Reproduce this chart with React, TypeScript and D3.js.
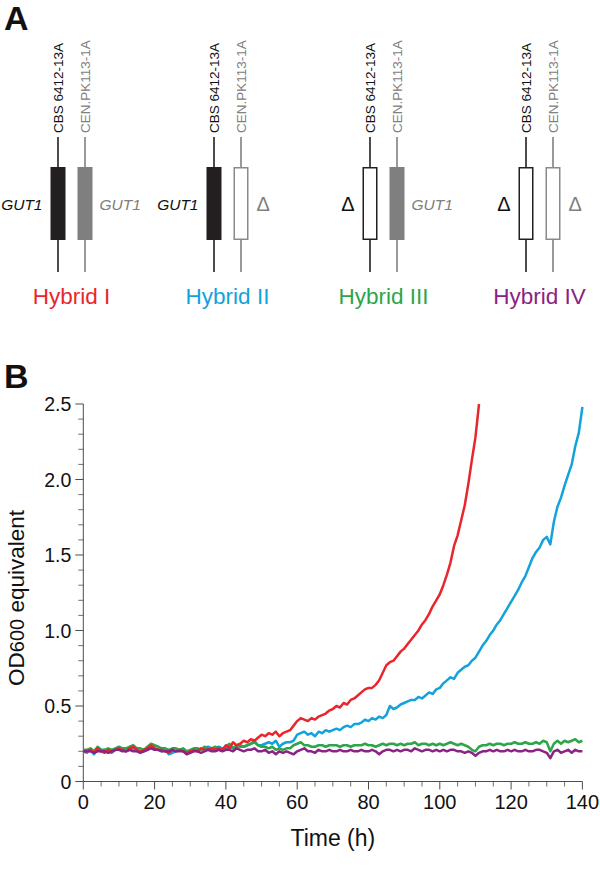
import React from 'react';
import * as d3 from 'd3';

// ---------- Panel A data ----------
const hybridNames = ['Hybrid I', 'Hybrid II', 'Hybrid III', 'Hybrid IV'];
const hybridColors = ['#e8262b', '#13a2dc', '#2ea548', '#8a2383'];
const strainLeft = 'CBS 6412-13A';
const strainRight = 'CEN.PK113-1A';
// allele of each parental chromosome: true = GUT1 present, false = deleted
const leftHasGut1 = [true, true, false, false];
const rightHasGut1 = [true, false, true, false];

// ---------- Panel B data ----------
const xTickValues = [0, 20, 40, 60, 80, 100, 120, 140];
const yTickValues = [0, 0.5, 1.0, 1.5, 2.0, 2.5];
const yTickLabels = ['0', '0.5', '1.0', '1.5', '2.0', '2.5'];

const hybridI = [
  0.20, 0.20, 0.21, 0.19, 0.22, 0.20, 0.19, 0.21, 0.20, 0.21,
  0.22, 0.21, 0.20, 0.22, 0.23, 0.21, 0.20, 0.21, 0.22, 0.24,
  0.22, 0.21, 0.21, 0.20, 0.19, 0.21, 0.20, 0.21, 0.20, 0.19,
  0.20, 0.21, 0.20, 0.22, 0.21, 0.21, 0.22, 0.21, 0.22, 0.21,
  0.24, 0.22, 0.26, 0.24, 0.25, 0.27, 0.26, 0.28, 0.27, 0.29,
  0.31, 0.30, 0.32, 0.31, 0.33, 0.30, 0.32, 0.33, 0.34, 0.37,
  0.40, 0.42, 0.41, 0.40, 0.42, 0.41, 0.43, 0.44, 0.45, 0.47,
  0.48, 0.50, 0.49, 0.52, 0.51, 0.54, 0.55, 0.57, 0.59, 0.61,
  0.62, 0.62, 0.64, 0.67, 0.72, 0.77, 0.79, 0.80, 0.83, 0.86,
  0.88, 0.91, 0.94, 0.97, 1.00, 1.04, 1.07, 1.11, 1.16, 1.20,
  1.24, 1.30, 1.37, 1.45, 1.56, 1.63, 1.73, 1.83, 1.97, 2.13,
  2.28, 2.50,
];

const hybridII = [
  0.20, 0.19, 0.21, 0.18, 0.21, 0.20, 0.21, 0.20, 0.19, 0.21,
  0.21, 0.22, 0.20, 0.21, 0.22, 0.21, 0.20, 0.20, 0.21, 0.23,
  0.22, 0.21, 0.20, 0.21, 0.18, 0.19, 0.20, 0.21, 0.20, 0.20,
  0.20, 0.21, 0.22, 0.21, 0.22, 0.23, 0.22, 0.22, 0.23, 0.22,
  0.22, 0.23, 0.22, 0.23, 0.24, 0.23, 0.24, 0.25, 0.27, 0.24,
  0.24, 0.25, 0.26, 0.25, 0.27, 0.23, 0.25, 0.26, 0.26, 0.27,
  0.31, 0.32, 0.33, 0.31, 0.32, 0.30, 0.33, 0.32, 0.34, 0.33,
  0.34, 0.35, 0.34, 0.36, 0.37, 0.36, 0.38, 0.38, 0.39, 0.41,
  0.40, 0.42, 0.41, 0.43, 0.42, 0.44, 0.50, 0.48, 0.49, 0.51,
  0.52, 0.53, 0.54, 0.54, 0.56, 0.55, 0.57, 0.59, 0.58, 0.61,
  0.62, 0.65, 0.67, 0.69, 0.68, 0.72, 0.74, 0.76, 0.77, 0.80,
  0.82, 0.86, 0.90, 0.93, 0.97, 1.00, 1.04, 1.07, 1.11, 1.15,
  1.19, 1.23, 1.27, 1.32, 1.36, 1.42, 1.48, 1.52, 1.55, 1.60,
  1.62, 1.57, 1.72, 1.82, 1.88, 1.96, 2.03, 2.10, 2.22, 2.31,
  2.48,
];

const hybridIII = [
  0.21, 0.21, 0.22, 0.20, 0.23, 0.21, 0.21, 0.22, 0.21, 0.22,
  0.23, 0.22, 0.22, 0.23, 0.24, 0.22, 0.22, 0.21, 0.23, 0.25,
  0.24, 0.23, 0.22, 0.22, 0.21, 0.22, 0.22, 0.21, 0.22, 0.20,
  0.21, 0.22, 0.22, 0.21, 0.23, 0.22, 0.22, 0.23, 0.22, 0.21,
  0.23, 0.25, 0.22, 0.24, 0.23, 0.23, 0.24, 0.25, 0.26, 0.24,
  0.23, 0.23, 0.22, 0.23, 0.21, 0.22, 0.21, 0.22, 0.22, 0.24,
  0.25, 0.26, 0.24, 0.24, 0.23, 0.23, 0.24, 0.24, 0.23, 0.24,
  0.24, 0.24, 0.23, 0.24, 0.24, 0.23, 0.24, 0.24, 0.24, 0.25,
  0.24, 0.24, 0.23, 0.24, 0.25, 0.24, 0.25, 0.25, 0.24, 0.25,
  0.24, 0.25, 0.25, 0.26, 0.24, 0.25, 0.25, 0.24, 0.25, 0.24,
  0.25, 0.24, 0.25, 0.26, 0.25, 0.24, 0.25, 0.24, 0.23, 0.21,
  0.20, 0.23, 0.24, 0.24, 0.25, 0.24, 0.25, 0.25, 0.24, 0.25,
  0.25, 0.26, 0.25, 0.25, 0.26, 0.25, 0.25, 0.26, 0.25, 0.27,
  0.26, 0.20, 0.25, 0.27, 0.25, 0.27, 0.26, 0.27, 0.28, 0.26,
  0.27,
];

const hybridIV = [
  0.20, 0.20, 0.20, 0.19, 0.20, 0.20, 0.20, 0.19, 0.20, 0.21,
  0.21, 0.20, 0.20, 0.21, 0.20, 0.20, 0.19, 0.20, 0.21, 0.22,
  0.21, 0.21, 0.20, 0.20, 0.20, 0.21, 0.20, 0.20, 0.20, 0.18,
  0.19, 0.20, 0.20, 0.19, 0.20, 0.21, 0.20, 0.20, 0.21, 0.20,
  0.21, 0.21, 0.20, 0.22, 0.21, 0.20, 0.21, 0.21, 0.22, 0.20,
  0.20, 0.21, 0.19, 0.20, 0.18, 0.20, 0.19, 0.20, 0.19, 0.18,
  0.20, 0.21, 0.22, 0.20, 0.20, 0.19, 0.21, 0.20, 0.20, 0.21,
  0.20, 0.20, 0.21, 0.20, 0.20, 0.21, 0.20, 0.20, 0.21, 0.20,
  0.20, 0.21, 0.20, 0.18, 0.20, 0.21, 0.21, 0.20, 0.21, 0.20,
  0.21, 0.21, 0.20, 0.22, 0.21, 0.20, 0.21, 0.21, 0.20, 0.21,
  0.20, 0.21, 0.20, 0.21, 0.21, 0.20, 0.20, 0.19, 0.20, 0.19,
  0.17, 0.19, 0.20, 0.20, 0.21, 0.20, 0.21, 0.20, 0.20, 0.21,
  0.20, 0.21, 0.20, 0.20, 0.21, 0.20, 0.20, 0.21, 0.21, 0.20,
  0.19, 0.155, 0.20, 0.21, 0.19, 0.20, 0.21, 0.19, 0.21, 0.20,
  0.20,
];

// draw order: blue, green, red, purple on top
const seriesOrder = [1, 2, 0, 3];
const seriesValues = [hybridI, hybridII, hybridIII, hybridIV];

const FONT = "'Liberation Sans', Arial, Helvetica, sans-serif";

export default function App() {
  // ---- panel A geometry ----
  const pairX = d3.scaleLinear().domain([0, 3]).range([58, 526]);
  const pairGap = 27;
  const barW = 15;
  const barTop = 167;
  const barBottom = 240;
  const lineTop = 137;
  const lineBottom = 272;
  const midY = (barTop + barBottom) / 2;

  // ---- panel B scales ----
  const x = d3.scaleLinear().domain([0, 140]).range([83.3, 582.4]);
  const y = d3.scaleLinear().domain([0, 2.5]).range([781.5, 404]);
  const xMinor = d3.range(0, 141, 5).filter((v) => v % 20 !== 0);
  const yMinor = d3.range(0, 26, 1).map((v) => v / 10).filter((v) => Math.round(v * 10) % 5 !== 0);

  const line = d3
    .line<number>()
    .x((_, i) => x(i))
    .y((d) => y(d))
    .curve(d3.curveLinear);

  const axisColor = '#4d4d4d';
  const grey = '#808080';

  return (
    <svg
      width={600}
      height={871}
      style={{ position: 'absolute', left: 0, top: 0, background: '#fff' }}
      fontFamily={FONT}
    >
      <rect width={600} height={871} fill="#fff" />
      {/* Panel letters */}
      <text x={4} y={30} fontSize={34} fontWeight="bold" fill="#111">A</text>
      <text x={4} y={388} fontSize={34} fontWeight="bold" fill="#111">B</text>

      {/* Panel A */}
      {hybridNames.map((name, i) => {
        const lx = pairX(i);
        const rx = lx + pairGap;
        const cx = (lx + rx) / 2;
        return (
          <g key={name}>
            {/* strain labels */}
            <text
              transform={`translate(${lx + 4.8},${133}) rotate(-90)`}
              fontSize={13.5}
              fill="#111"
            >
              {strainLeft}
            </text>
            <text
              transform={`translate(${rx + 4.8},${133}) rotate(-90)`}
              fontSize={13.5}
              fill={grey}
            >
              {strainRight}
            </text>
            {/* chromosome lines */}
            <line x1={lx} x2={lx} y1={lineTop} y2={lineBottom} stroke="#231f20" strokeWidth={1.6} />
            <line x1={rx} x2={rx} y1={lineTop} y2={lineBottom} stroke={grey} strokeWidth={1.6} />
            {/* bars */}
            <rect
              x={lx - barW / 2 + (leftHasGut1[i] ? 0 : 0.75)}
              y={barTop + (leftHasGut1[i] ? 0 : 0.75)}
              width={barW - (leftHasGut1[i] ? 0 : 1.5)}
              height={barBottom - barTop - (leftHasGut1[i] ? 0 : 1.5)}
              fill={leftHasGut1[i] ? '#231f20' : '#fff'}
              stroke={leftHasGut1[i] ? 'none' : '#231f20'}
              strokeWidth={1.5}
            />
            <rect
              x={rx - barW / 2 + (rightHasGut1[i] ? 0 : 0.75)}
              y={barTop + (rightHasGut1[i] ? 0 : 0.75)}
              width={barW - (rightHasGut1[i] ? 0 : 1.5)}
              height={barBottom - barTop - (rightHasGut1[i] ? 0 : 1.5)}
              fill={rightHasGut1[i] ? '#7f7f80' : '#fff'}
              stroke={rightHasGut1[i] ? 'none' : '#8a8a8a'}
              strokeWidth={1.5}
            />
            {/* allele labels */}
            {leftHasGut1[i] ? (
              <text x={lx - barW / 2 - 8} y={midY + 6} fontSize={15.5} fontStyle="italic" textAnchor="end" fill="#111">
                GUT1
              </text>
            ) : (
              <text x={lx - barW / 2 - 8} y={midY + 7} fontSize={20} textAnchor="end" fill="#111">
                Δ
              </text>
            )}
            {rightHasGut1[i] ? (
              <text x={rx + barW / 2 + 7} y={midY + 6} fontSize={15.5} fontStyle="italic" fill={grey}>
                GUT1
              </text>
            ) : (
              <text x={rx + barW / 2 + 8} y={midY + 7} fontSize={20} fill={grey}>
                Δ
              </text>
            )}
            {/* hybrid name */}
            <text x={cx} y={304} fontSize={22.5} textAnchor="middle" fill={hybridColors[i]}>
              {name}
            </text>
          </g>
        );
      })}

      {/* Panel B axes */}
      <line x1={x(0)} x2={x(0)} y1={y(2.5)} y2={y(0)} stroke={axisColor} strokeWidth={1} />
      <line x1={x(0)} x2={x(140)} y1={y(0)} y2={y(0)} stroke={axisColor} strokeWidth={1} />
      {yTickValues.map((v, i) => (
        <g key={'yt' + v}>
          <line x1={x(0) - 8} x2={x(0)} y1={y(v)} y2={y(v)} stroke={axisColor} strokeWidth={1} />
          <text x={x(0) - 12} y={y(v) + 7} fontSize={19.5} textAnchor="end" fill="#111">
            {yTickLabels[i]}
          </text>
        </g>
      ))}
      {yMinor.map((v) => (
        <line key={'ym' + v} x1={x(0) - 5} x2={x(0)} y1={y(v)} y2={y(v)} stroke={axisColor} strokeWidth={0.8} />
      ))}
      {xTickValues.map((v) => (
        <g key={'xt' + v}>
          <line x1={x(v)} x2={x(v)} y1={y(0)} y2={y(0) + 8} stroke={axisColor} strokeWidth={1} />
          <text x={x(v)} y={y(0) + 27} fontSize={20} textAnchor="middle" fill="#111">
            {v}
          </text>
        </g>
      ))}
      {xMinor.map((v) => (
        <line key={'xm' + v} x1={x(v)} x2={x(v)} y1={y(0)} y2={y(0) + 5} stroke={axisColor} strokeWidth={0.8} />
      ))}
      <text x={(x(0) + x(140)) / 2} y={846} fontSize={23} textAnchor="middle" fill="#111">
        Time (h)
      </text>
      <text
        transform={`translate(${24},${598}) rotate(-90)`}
        fontSize={22.5}
        textAnchor="middle"
        fill="#111"
      >
        OD<tspan fontSize={20}>600</tspan> equivalent
      </text>

      {/* Curves */}
      {seriesOrder.map((si) => (
        <path
          key={'s' + si}
          d={line(seriesValues[si]) || ''}
          fill="none"
          stroke={hybridColors[si]}
          strokeWidth={2.5}
          strokeLinejoin="round"
        />
      ))}
    </svg>
  );
}
